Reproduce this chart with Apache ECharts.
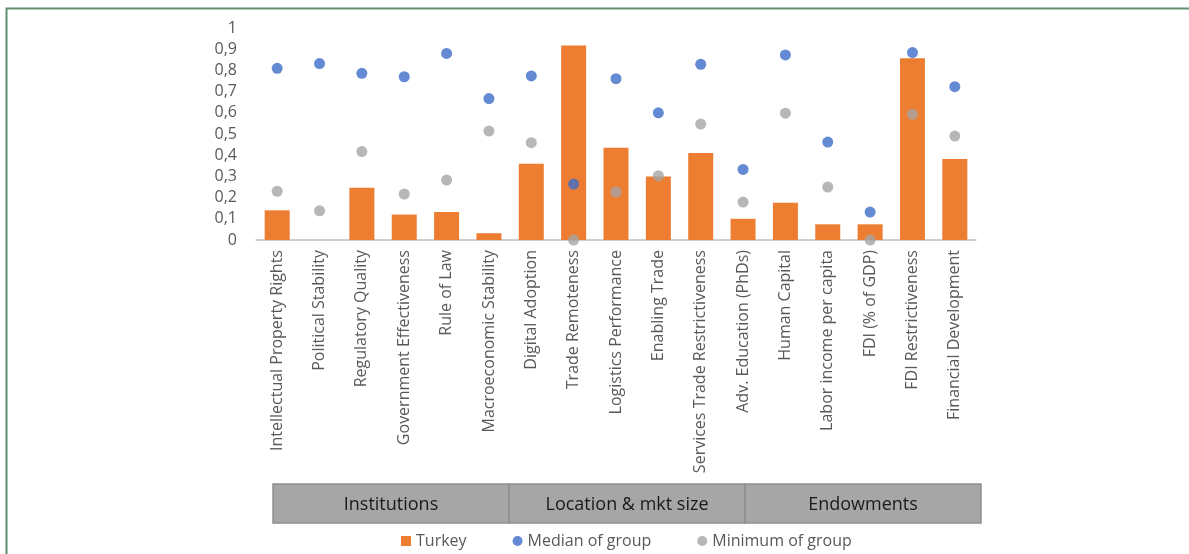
<!DOCTYPE html>
<html>
<head>
<meta charset="utf-8">
<script src="https://cdn.jsdelivr.net/npm/echarts@6/dist/echarts.min.js"></script>
<style>html,body{margin:0;padding:0;background:#fff}#c{width:1189px;height:554px}</style>
</head>
<body>
<div id="c"></div>
<script>
const categories = ["Intellectual Property Rights","Political Stability","Regulatory Quality","Government Effectiveness","Rule of Law","Macroeconomic Stability","Digital Adoption","Trade Remoteness","Logistics Performance","Enabling Trade","Services Trade Restrictiveness","Adv. Education (PhDs)","Human Capital","Labor income per capita","FDI (% of GDP)","FDI Restrictiveness","Financial Development"];
const turkey = [0.14,0,0.247,0.12,0.132,0.032,0.36,0.917,0.435,0.30,0.41,0.10,0.176,0.074,0.074,0.857,0.382];
const median = [0.81,0.832,0.786,0.77,0.88,0.667,0.774,0.264,0.761,0.60,0.829,0.333,0.873,0.462,0.132,0.884,0.723];
const minimum = [0.23,0.138,0.417,0.217,0.283,0.514,0.459,0,0.226,0.303,0.547,0.179,0.598,0.25,0,0.593,0.49];
const groups = ["Institutions","Location & mkt size","Endowments"];
const seriesNames = ["Turkey","Median of group","Minimum of group"];

const FONT = "'Open Sans', 'Liberation Sans', sans-serif";
const chart = echarts.init(document.getElementById('c'), null, {renderer:'canvas'});

const boxLeft = 273, boxRight = 981, boxTop = 484, boxH = 39;
const boxW = (boxRight - boxLeft) / groups.length;
const graphics = [
  {type:'rect', shape:{x:6.5,y:8.5,width:1300,height:700}, style:{fill:null, stroke:'#5f8f6f', lineWidth:2}, silent:true, z:100}
];
groups.forEach((g,i)=>{
  graphics.push({type:'rect', shape:{x:boxLeft+i*boxW, y:boxTop, width:boxW, height:boxH},
    style:{fill:'#a6a6a6', stroke:'#8e8e8e', lineWidth:1.5}});
  graphics.push({type:'text', x:boxLeft+i*boxW+boxW/2, y:boxTop+boxH/2+1,
    style:{text:g, fill:'#1a1a1a', font:"18px "+FONT, textAlign:'center', textVerticalAlign:'middle'}});
});

chart.setOption({
  animation:false,
  textStyle:{fontFamily:FONT},
  grid:{left:256, right:213, top:28, bottom:314, containLabel:false},
  legend:{
    data:[{name:seriesNames[0], icon:'rect'},{name:seriesNames[1], icon:'circle'},{name:seriesNames[2], icon:'circle'}],
    left:396, top:528, itemWidth:10, itemHeight:10, itemGap:46,
    textStyle:{color:'#595959', fontSize:16, fontFamily:FONT}
  },
  xAxis:{
    type:'category', data:categories,
    axisLine:{lineStyle:{color:'#bfbfbf', width:1.5}},
    axisTick:{show:false},
    axisLabel:{rotate:90, interval:0, color:'#595959', fontSize:16, margin:10, fontFamily:FONT}
  },
  yAxis:{
    type:'value', min:0, max:1, interval:0.1,
    axisLine:{show:false}, axisTick:{show:false}, splitLine:{show:false},
    axisLabel:{color:'#595959', fontSize:16, margin:19, fontFamily:FONT,
      formatter:v=>String(Math.round(v*10)/10).replace('.',',')}
  },
  series:[
    {name:seriesNames[0], type:'bar', data:turkey, barWidth:'59%',
      itemStyle:{color:'#ed7d31'}, z:2},
    {name:seriesNames[1], type:'scatter', data:median, symbol:'circle', symbolSize:11,
      itemStyle:{color:'#3c6dc8'}, z:4},
    {name:seriesNames[2], type:'scatter', data:minimum, symbol:'circle', symbolSize:11,
      itemStyle:{color:'#a5a5a5'}, z:3}
  ],
  graphic:graphics
});
</script>
</body>
</html>
